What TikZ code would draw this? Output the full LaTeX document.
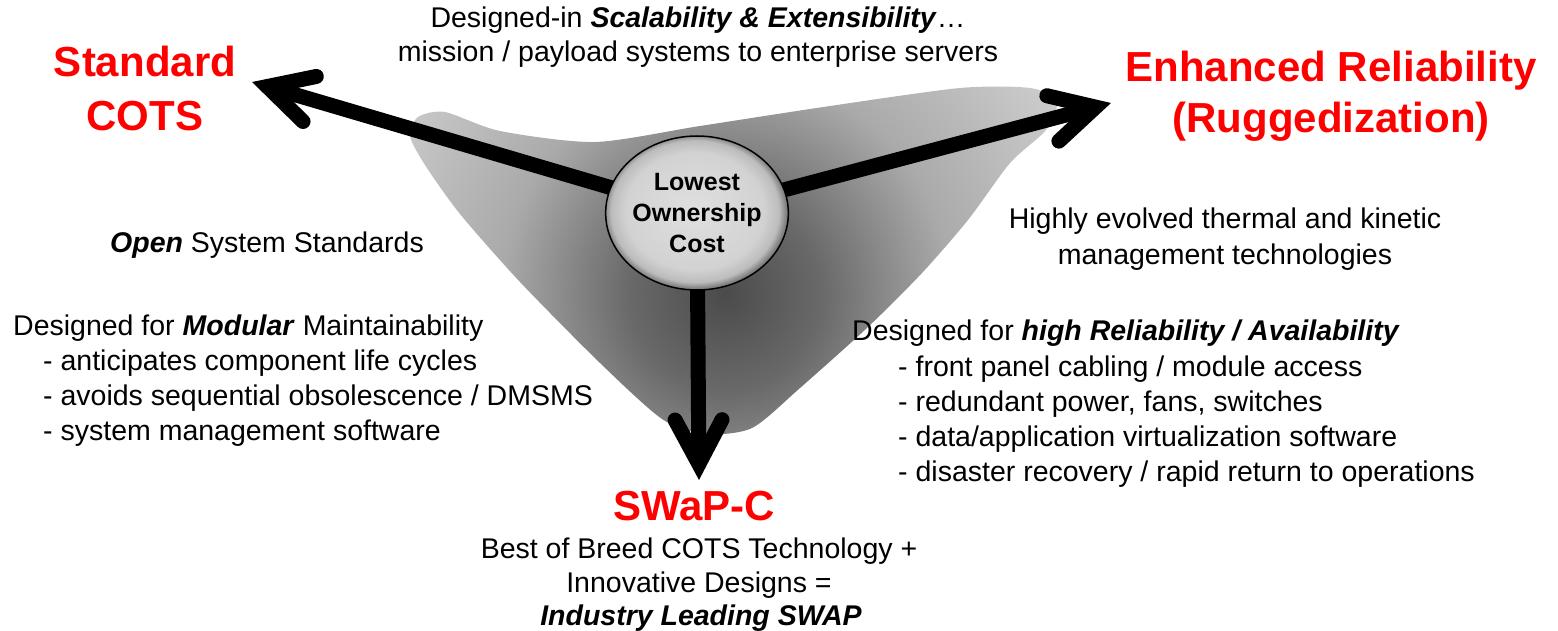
\documentclass[tikz,border=0pt]{standalone}
\usepackage{fontspec}
\setmainfont{Liberation Sans}
\usetikzlibrary{calc,shapes.geometric}
\definecolor{cotsred}{RGB}{255,0,0}
\definecolor{bA}{RGB}{75,75,75}
\definecolor{bB}{RGB}{105,105,105}
\definecolor{bC}{RGB}{170,170,170}
\definecolor{bD}{RGB}{208,208,208}
\definecolor{kA}{RGB}{224,224,224}
\definecolor{kB}{RGB}{210,210,210}
\definecolor{kC}{RGB}{188,188,188}
\definecolor{kD}{RGB}{125,125,125}
\pgfdeclareradialshading{blobshade}{\pgfpoint{0bp}{0bp}}{color(0bp)=(bA); color(6bp)=(bB); color(14bp)=(bC); color(25bp)=(bD); color(50bp)=(bD)}
\pgfdeclareradialshading{btnshade}{\pgfpoint{-1bp}{1bp}}{color(0bp)=(kA); color(19bp)=(kB); color(23bp)=(kC); color(25bp)=(kD); color(50bp)=(kD)}
\pgfdeclarelayer{bg}
\pgfsetlayers{bg,main}
\begin{document}
\begin{tikzpicture}[x=1pt,y=-1pt,
  body/.style={font=\fontsize{28.5}{35}\selectfont, inner sep=0pt},
  ttl/.style={font=\bfseries\fontsize{42}{50}\selectfont, text=cotsred, inner sep=0pt},
  shaft/.style={line width=15pt, line cap=butt, black},
  head/.style={line width=15pt, line cap=round, line join=miter, black},
  button/.style={ellipse, minimum width=178pt, minimum height=154pt, inner sep=0pt,
    draw=black, line width=1.5pt, shade, shading=btnshade, align=center,
    font=\bfseries\fontsize{25}{31}\selectfont}]
\useasboundingbox (0,0) rectangle (1558,631);

% centre button
\node[button] (c) at (697,213) {Lowest\\Ownership\\Cost};

\coordinate (tL) at (252,82);
\coordinate (tR) at (1111,103);
\coordinate (tD) at (699,480);
\coordinate (vL) at ($(tL)!16pt!(c.center)$);
\coordinate (vR) at ($(tR)!16pt!(c.center)$);
\coordinate (vD) at ($(tD)!16pt!(c.center)$);

\begin{pgfonlayer}{bg}
  \begin{scope}
    \clip plot[smooth cycle, tension=0.45] coordinates {(418,117) (445,112) (500,131) (595,142) (700,126) (830,106) (960,88) (1030,88) (1057,101) (1046,130) (1010,163) (968,220) (922,273) (868,327) (800,388) (752,428) (705,434) (662,419) (600,363) (520,282) (460,214) (425,165) (410,136)};
    \shade[shading=blobshade] (725,295) circle (400);
  \end{scope}
  \draw[shaft] (c.center) -- (vL);
  \draw[shaft] (c.center) -- (vR);
  \draw[shaft] (c.center) -- (vD);
  \draw[head] ($(vL)!50pt!28:(c.center)$) -- (vL) -- ($(vL)!50pt!-28:(c.center)$);
  \draw[head] ($(vR)!50pt!28:(c.center)$) -- (vR) -- ($(vR)!50pt!-28:(c.center)$);
  \draw[head] ($(vD)!50pt!28:(c.center)$) -- (vD) -- ($(vD)!50pt!-28:(c.center)$);
\end{pgfonlayer}

% headings
\node[ttl, anchor=base] (std1) at (145,77) {Standard};
\node[ttl, anchor=base] (std2) at (145,131) {COTS};
\node[ttl, anchor=base] (enh1) at (1331,82) {Enhanced Reliability};
\node[ttl, anchor=base] (enh2) at (1331,133) {(Ruggedization)};
\node[ttl, anchor=base] (swap) at (694,520) {SWaP-C};

% top text
\node[body, anchor=base] (top1) at (698,28) {Designed-in \textbf{\textit{Scalability \& Extensibility}}…};
\node[body, anchor=base] (top2) at (698,62) {mission / payload systems to enterprise servers};

% left texts
\node[body, anchor=base west] (open) at (110,252) {\textbf{\textit{Open}} System Standards};
\node[body, anchor=base west] (mod0) at (13,335) {Designed for \textbf{\textit{Modular}} Maintainability};
\node[body, anchor=base west] (mod1) at (43,370) {- anticipates component life cycles};
\node[body, anchor=base west] (mod2) at (43,405) {- avoids sequential obsolescence / DMSMS};
\node[body, anchor=base west] (mod3) at (43,440) {- system management software};

% right texts
\node[body, anchor=base] (th1) at (1225,229) {Highly evolved thermal and kinetic};
\node[body, anchor=base] (th2) at (1225,264) {management technologies};
\node[body, anchor=base west] (rel0) at (852,340) {Designed for \textbf{\textit{high Reliability / Availability}}};
\node[body, anchor=base west] (rel1) at (898,376) {- front panel cabling / module access};
\node[body, anchor=base west] (rel2) at (898,411) {- redundant power, fans, switches};
\node[body, anchor=base west] (rel3) at (898,446) {- data/application virtualization software};
\node[body, anchor=base west] (rel4) at (898,481) {- disaster recovery / rapid return to operations};

% bottom texts
\node[body, anchor=base] (sw1) at (699,558) {Best of Breed COTS Technology +};
\node[body, anchor=base] (sw2) at (699,592) {Innovative Designs =};
\node[body, anchor=base] (sw3) at (701,625) {\textbf{\textit{Industry Leading SWAP}}};
\end{tikzpicture}
\end{document}
